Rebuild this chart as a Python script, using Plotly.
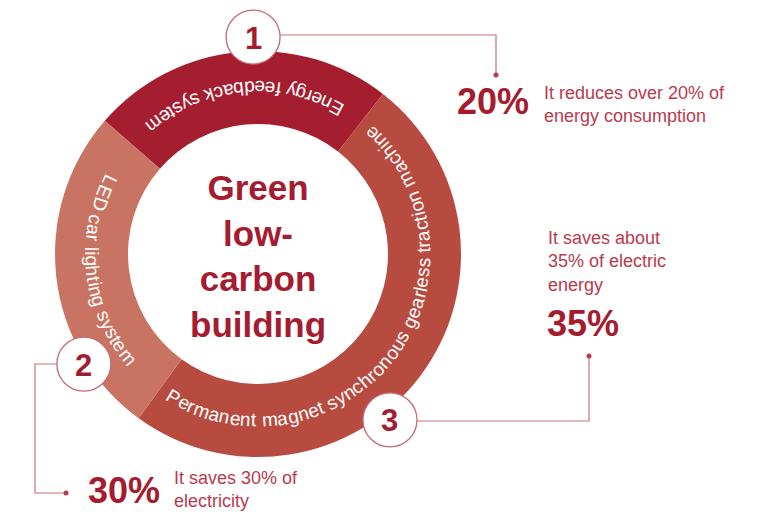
import math
import plotly.graph_objects as go

# ---------------- data ----------------
segment_labels = ["Energy feedback system",
                  "Permanent magnet synchronous gearless traction machine",
                  "LED car lighting system"]
segment_degrees = [87, 178, 95]          # share of the ring (clockwise order)
segment_colors = ["#A51E30", "#B84B40", "#C97462"]

badge_numbers = ["1", "3", "2"]
callout_percent = ["20%", "35%", "30%"]
callout_text = ["It reduces over 20% of<br>energy consumption",
                "It saves about<br>35% of electric<br>energy",
                "It saves 30% of<br>electricity"]
center_title = "Green<br>low-<br>carbon<br>building"

# ---------------- geometry ----------------
W, H = 761, 512
CX, CY = 258, 254
R_OUT, R_IN, R_TEXT = 203, 130, 166
START_MATH = 139          # math angle (deg) where the first slice starts, going clockwise
FS_RING = 19
FONT = "Liberation Sans"

DARK = "#A51C30"
SOFT = "#BA3A4C"
LINE = "#C9707E"

fig = go.Figure()

# ring as a donut pie
fig.add_trace(go.Pie(
    values=segment_degrees, labels=segment_labels, sort=False,
    direction="clockwise", rotation=90 - START_MATH,
    hole=R_IN / R_OUT, textinfo="none", hoverinfo="skip",
    marker=dict(colors=segment_colors, line=dict(width=0)),
    domain=dict(x=[(CX - R_OUT) / W, (CX + R_OUT) / W],
                y=[1 - (CY + R_OUT) / H, 1 - (CY - R_OUT) / H]),
    showlegend=False))

# ---------------- curved labels ----------------
WIDTHS = {' ': 278, 'a': 556, 'b': 556, 'c': 500, 'd': 556, 'e': 556, 'f': 278,
          'g': 556, 'h': 556, 'i': 222, 'k': 500, 'l': 222, 'm': 833, 'n': 556,
          'o': 556, 'r': 333, 's': 500, 't': 278, 'u': 556, 'y': 500, 'v': 500,
          'E': 667, 'L': 556, 'D': 722, 'P': 667}

annotations = []
cum = 0.0
for label, deg in zip(segment_labels, segment_degrees):
    mid = START_MATH - cum - deg / 2.0
    cum += deg
    widths = [WIDTHS.get(ch, 556) * FS_RING / 1000.0 for ch in label]
    total = sum(widths)
    theta0 = math.radians(mid) - total / R_TEXT / 2.0
    acc = 0.0
    for ch, w in zip(label, widths):
        th = theta0 + (acc + w / 2.0) / R_TEXT
        acc += w
        if ch == ' ':
            continue
        annotations.append(dict(
            x=CX + R_TEXT * math.cos(th), y=CY - R_TEXT * math.sin(th),
            xref="x", yref="y", text=ch, showarrow=False,
            textangle=-(math.degrees(th) + 90),
            xanchor="center", yanchor="middle",
            font=dict(family=FONT, size=FS_RING, color="white")))

# centre title
annotations.append(dict(x=CX, y=256, xref="x", yref="y", text=center_title,
                        showarrow=False, xanchor="center", yanchor="middle",
                        font=dict(family=FONT, size=35, color=DARK, weight="bold")))

# ---------------- badges ----------------
badge_polar = [(91.3, 217), (308.5, 212), (212.3, 206)]
BR = 27
shapes = []
badge_xy = []
for (ang, rr), num in zip(badge_polar, badge_numbers):
    bx = CX + rr * math.cos(math.radians(ang))
    by = CY - rr * math.sin(math.radians(ang))
    badge_xy.append((bx, by))
    shapes.append(dict(type="circle", xref="x", yref="y", layer="above",
                       x0=bx - BR, x1=bx + BR, y0=by - BR, y1=by + BR,
                       fillcolor="white", line=dict(color="#C46A78", width=1.3)))
    annotations.append(dict(x=bx, y=by + 1, xref="x", yref="y", text=num,
                            showarrow=False, xanchor="center", yanchor="middle",
                            font=dict(family=FONT, size=31, color=DARK, weight="bold")))

# ---------------- connectors ----------------
(b1x, b1y), (b3x, b3y), (b2x, b2y) = badge_xy
connectors = [
    ([b1x + BR, 496, 496], [35, 35, 75]),
    ([b3x + BR, 589, 589], [421, 421, 356]),
    ([b2x - BR, 35, 35, 66], [364, 364, 493, 493]),
]
for xs, ys in connectors:
    fig.add_trace(go.Scatter(x=xs, y=ys, mode="lines", hoverinfo="skip",
                             line=dict(color=LINE, width=1.2), showlegend=False))
    fig.add_trace(go.Scatter(x=[xs[-1]], y=[ys[-1]], mode="markers", hoverinfo="skip",
                             marker=dict(color=SOFT, size=5), showlegend=False))

# ---------------- callout texts ----------------
big = dict(family=FONT, size=36, color=DARK, weight="bold")
small = dict(family=FONT, size=18, color=SOFT)
annotations += [
    dict(x=455, y=101, text=callout_percent[0], xanchor="left", font=big),
    dict(x=542, y=104, text=callout_text[0], xanchor="left", align="left", font=small),
    dict(x=545, y=323, text=callout_percent[1], xanchor="left", font=big),
    dict(x=546, y=261, text=callout_text[1], xanchor="left", align="left", font=small),
    dict(x=86, y=490, text=callout_percent[2], xanchor="left", font=big),
    dict(x=172, y=489, text=callout_text[2], xanchor="left", align="left", font=small),
]
for a in annotations[-6:]:
    a.update(xref="x", yref="y", showarrow=False, yanchor="middle")

fig.update_layout(
    width=W, height=H, margin=dict(l=0, r=0, t=0, b=0),
    paper_bgcolor="white", plot_bgcolor="white",
    xaxis=dict(range=[0, W], visible=False, fixedrange=True),
    yaxis=dict(range=[H, 0], visible=False, fixedrange=True),
    shapes=shapes, annotations=annotations, showlegend=False)

fig.write_html("out.html",
               config={"displayModeBar": False, "staticPlot": True},
               post_script="document.body.style.margin='0';document.body.style.overflow='hidden';")
